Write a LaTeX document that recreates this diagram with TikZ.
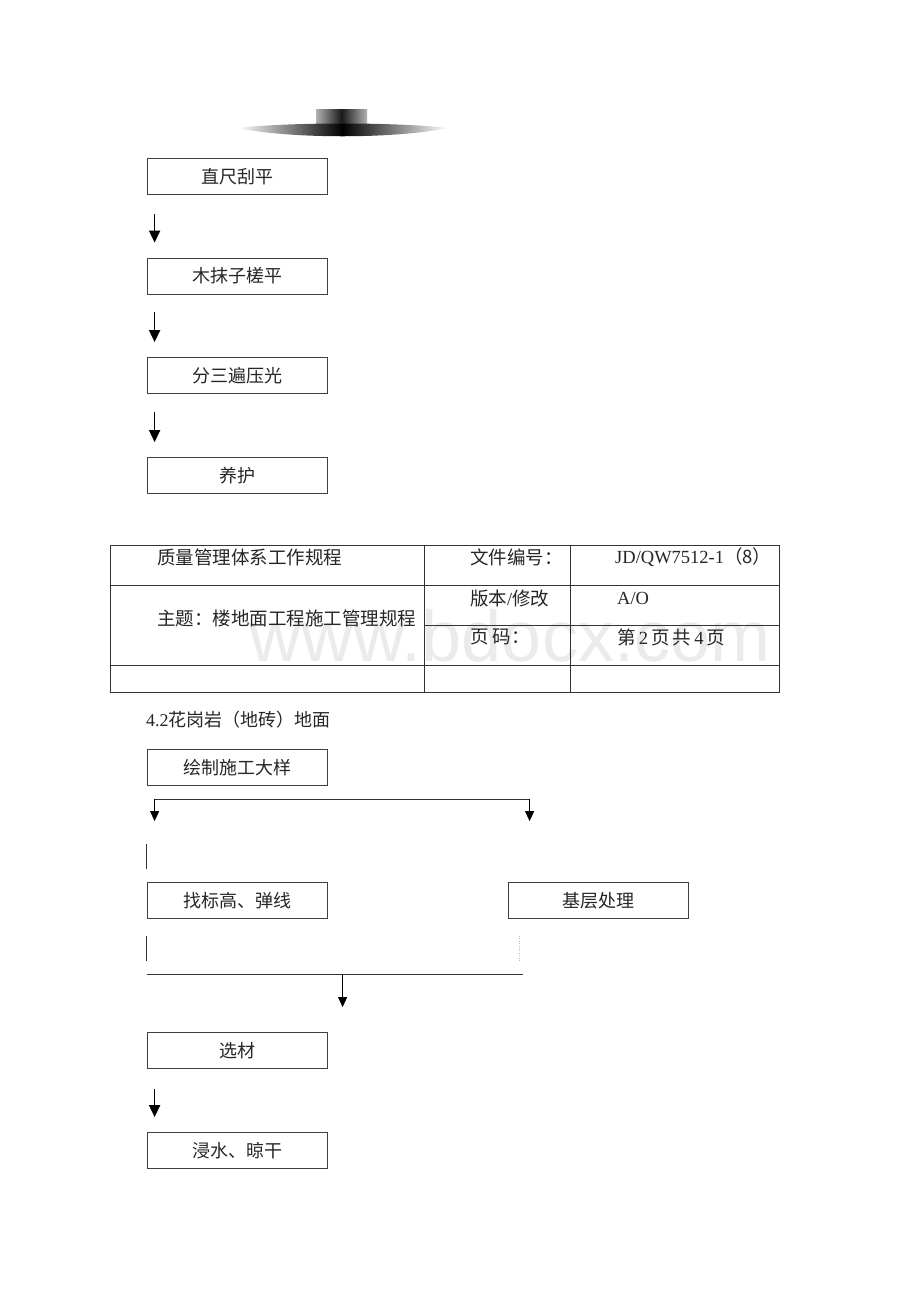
\documentclass[tikz,border=0pt]{standalone}
\usepackage{fontspec}
\setmainfont{Liberation Serif}
\newfontfamily\cjk{Noto Sans CJK SC}
\newfontfamily\wmfont{Liberation Sans}
\usetikzlibrary{positioning}
\usetikzlibrary{arrows.meta}

\begin{document}
\begin{tikzpicture}[x=1pt,y=-1pt,
  stepbox/.style={draw=black!75,line width=0.8pt,minimum width=180pt,minimum height=36pt,inner sep=0pt,font=\cjk\fontsize{18}{20}\selectfont,text=black!85},
  flow/.style={line width=1.7pt,-{Triangle[width=11pt,length=12pt]}},
  thinflow/.style={line width=1pt,-{Triangle[width=9pt,length=10pt]}},
  rule/.style={draw=black!80,line width=0.8pt},
  cell/.style={anchor=west,inner sep=0pt,font=\fontsize{18.5}{21}\selectfont,text=black!85}]
\useasboundingbox[fill=white] (0,0) rectangle (920,1302);

% shaded piece on top
\shade[left color=black!30,right color=black!30,middle color=black!90] (316,109) rectangle (367,126);
\shade[left color=white,right color=white,middle color=black] (237,128) .. controls (290,122) and (395,122) .. (448,128) .. controls (395,139) and (290,139) .. cycle;

% first chain
\node[stepbox] (level) at (237,176.5) {直尺刮平};
\node[stepbox] (float) at (237,276) {木抹子槎平};
\node[stepbox] (press) at (237,375.5) {分三遍压光};
\node[stepbox] (cure) at (237,475.5) {养护};
\draw[flow] ([shift={(8,19)}]level.south west) -- ([shift={(8,-15)}]float.north west);
\draw[flow] ([shift={(8,18)}]float.south west) -- ([shift={(8,-15)}]press.north west);
\draw[flow] ([shift={(8,18)}]press.south west) -- ([shift={(8,-15)}]cure.north west);

% watermark
\node[font=\wmfont\fontsize{72}{72}\selectfont,text=black!8] (wm) at (510,636) {www.bdocx.com};

% header table
\draw[rule] (110,545) rectangle (779,692);
\draw[rule] (110,585) -- (779,585);
\draw[rule] (424,625) -- (779,625);
\draw[rule] (110,665) -- (779,665);
\draw[rule] (424,545) -- (424,692);
\draw[rule] (570,545) -- (570,692);
\node[cell] (sys) at (157,557) {\cjk 质量管理体系工作规程};
\node[cell] (topic) at (157,618) {\cjk 主题：楼地面工程施工管理规程};
\node[cell] (docno) at (470,557) {\cjk 文件编号：};
\node[cell] (docval) at (615,557) {JD/QW7512-1{\cjk （8）}};
\node[cell] (rev) at (470,598) {{\cjk 版本}/{\cjk 修改}};
\node[cell] (revval) at (617,598) {A/O};
\node[cell] (page) at (470,637) {\cjk 页\ 码：};
\node[cell] (pageval) at (617,637) {{\cjk 第}\,2\,{\cjk 页}\,{\cjk 共}\,4\,{\cjk 页}};
\node[cell,font=\fontsize{18}{20}\selectfont] (sec) at (146,720) {4.2{\cjk 花岗岩（地砖）地面}};

% second chain
\node[stepbox] (plan) at (237,767.5) {绘制施工大样};
\node[stepbox] (mark) at (237,900.5) {找标高、弹线};
\node[stepbox] (base) at (598,900.5) {基层处理};
\node[stepbox] (pick) at (237,1050.5) {选材};
\node[stepbox] (soak) at (237,1150.5) {浸水、晾干};

\coordinate (fork) at ([shift={(8,13)}]plan.south west);
\draw[rule] (fork) -- ++(375,0) coordinate (forkr);
\draw[thinflow] (fork) -- ([shift={(8,-61)}]mark.north west);
\draw[thinflow] (forkr) -- ([shift={(22,-61)}]base.north west);
\draw[rule] ([shift={(0,-38)}]mark.north west) -- ([shift={(0,-13)}]mark.north west);
\draw[rule] ([shift={(0,17)}]mark.south west) -- ([shift={(0,42)}]mark.south west);
\draw[black!25,dotted] ([shift={(12,17)}]base.south west) -- ([shift={(12,42)}]base.south west);
\coordinate (join) at ([shift={(0,55)}]mark.south west);
\draw[rule] (join) -- ++(376,0);
\draw[thinflow] ([shift={(196,55)}]mark.south west) -- ([shift={(196,-25)}]pick.north west);
\draw[flow] ([shift={(8,20)}]pick.south west) -- ([shift={(8,-15)}]soak.north west);
\end{tikzpicture}
\end{document}
